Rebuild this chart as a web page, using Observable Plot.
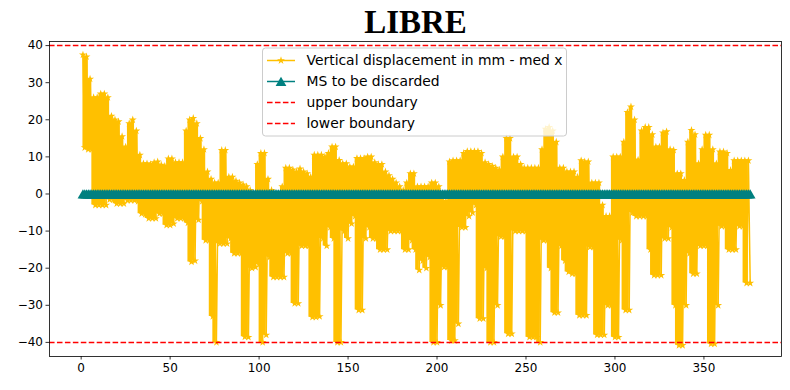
<!DOCTYPE html>
<html>
<head>
<meta charset="utf-8">
<script src="https://cdn.jsdelivr.net/npm/d3@7"></script>
<script src="https://cdn.jsdelivr.net/npm/@observablehq/plot@0.6"></script>
<style>
  html, body { margin: 0; padding: 0; background: white; }
  #chart svg { display: block; }
</style>
</head>
<body>
<div id="chart"></div>
<script>
// Sample positions (x) and read-off upper / lower envelope of the dense signal
const sampleX = [
  1,3,5,7,9,11,13,15,17,19,21,23,25,27,29,31,33,35,37,39,41,43,45,47,49,51,53,55,57,59,
  61,63,65,67,69,71,73,75,77,79,81,83,85,87,89,91,93,95,97,99,101,103,105,107,109,111,113,115,117,119,
  121,123,125,127,129,131,133,135,137,139,141,143,145,147,149,151,153,155,157,159,161,163,165,167,169,171,173,175,177,179,
  181,183,185,187,189,191,193,195,197,199,201,203,205,207,209,211,213,215,217,219,221,223,225,227,229,231,233,235,237,239,
  241,243,245,247,249,251,253,255,257,259,261,263,265,267,269,271,273,275,277,279,281,283,285,287,289,291,293,295,297,299,
  301,303,305,307,309,311,313,315,317,319,321,323,325,327,329,331,333,335,337,339,341,343,345,347,349,351,353,355,357,359,
  361,363,365,367,369,371,373,375
];
const dispHigh = [
  37.5,37,31,26,26,27,27,26,21,20,19.5,15.5,12.7,19,20,17,10.5,8.2,8.2,8,8.5,8.7,7.8,7.5,9.5,9.5,8.5,8.5,8.5,17,
  20,20.4,19,15,12,6,4,3,3,11.8,11.8,4.6,4.6,3.5,3,2.5,2,1,-1.5,8,11,11,4,1,-1,-1,2,7,7,6.5,
  6,6.8,6,5.5,4.6,10.5,10.5,10.5,10,11,12.7,12.7,9.1,8.2,8.2,7.3,7.3,9.6,9.6,9.6,10,10,8.5,8,8,6,5,4,3,2,
  1,3,5.5,5.5,2,2,2,2,3,3,2,-1,-2,8.7,9,9,9,11,11.5,11.5,11.5,11.5,11,8.5,8,7.5,7,6.5,10,15,
  15,10,10,8,7,7,7,7,7,12,17.5,18,17,14,7,7,6,6,6,4.6,9,8.7,8.7,3,3,3,-3,-6,-6,10,
  10,10,14,22,23.5,20,9.2,17,18,18,16,12.7,12.7,16.5,16.8,12,11.8,5.5,5.5,3.7,14,17.2,16,8.2,12,15.9,15.9,12,8.2,11.4,
  11.4,11,6.4,9,9,9,9,9
];
const dispLow = [
  12.5,12,12,-3,-3,-3,-3,-1.5,-1.5,-2.6,-2.6,-2.6,-1.7,-1.7,-1.7,-2,-5.3,-5.5,-6.6,-6.6,-6.6,-5.3,-5.3,-8.4,-8.4,-8,-6.6,-6.6,-6.6,-7.8,
  -18.3,-18,-7,-2,-12.5,-12.5,-33,-40,-13.4,-13.4,-13.4,-12,-16,-16,-16,-38.5,-38.6,-20,-19.7,-19,-40,-38,-17,-22.4,-22.4,-22.4,-22.4,-16,-16,-29.5,
  -29.5,-14,-14,-14,-33.2,-33.2,-33,-12,-14,-9,-12,-40,-40,-10,-12,-8,-6,-31.3,-31.3,-12,-9,-12,-12,-15,-15,-15,-10,-10,-10,-10,
  -15,-15,-12.5,-15,-20.5,-18,-20,-17,-40,-40,-30,-19.7,-19.7,-39.5,-39.5,-35,-9,-9,-6,-5,-3,-33.6,-33.6,-20,-40,-40,-30,-11.5,-11.5,-37.7,
  -37.7,-10,-10,-10,-10,-38.6,-38.6,-38.6,-40,-12.5,-12.5,-20,-32,-32,-14,-18,-21,-21.5,-21.5,-32.7,-32.7,-32.7,-14.3,-14.3,-38,-38,-38,-30,-30,-38.6,
  -38.6,-12.5,-31.3,-31.3,-5,-6,-6,-6,-6,-15,-21.9,-21.9,-21.9,-12,-12,-9,-30,-40.8,-40.8,-30,-16,-21.5,-21.5,-14,-14,-14,-40.4,-40.4,-30,-8.7,
  -8.7,-15,-15,-15,-8.7,-8.7,-24,-24
];
// "MS to be discarded" series: all zero over the same samples
const msDiscard = sampleX.map(() => 0);

const xTicks = [0, 50, 100, 150, 200, 250, 300, 350];
const yTicks = [-40, -30, -20, -10, 0, 10, 20, 30, 40];
const boundaries = [40, -40];
const titleText = "LIBRE";
const legendLabels = [
  "Vertical displacement in mm - med x",
  "MS to be discarded",
  "upper boundary",
  "lower boundary"
];

const ORANGE = "#ffc000";
const TEAL = "#008080";
const RED = "#ff0000";

// Build the displacement tables (envelope band + alternating high / low readings)
const envRows = sampleX.map((x, i) => ({x: x, hi: dispHigh[i], lo: dispLow[i]}));
const dispRows = [];
sampleX.forEach((x, i) => {
  dispRows.push({x: x, y: dispHigh[i]});
  dispRows.push({x: x + 1, y: dispLow[i]});
});
const msRows = sampleX.flatMap((x, i) => [{x: x, y: msDiscard[i]}, {x: x + 1, y: msDiscard[i]}]);

const fmt = d3.format("d");

const svg = Plot.plot({
  width: 790,
  height: 390,
  marginLeft: 49,
  marginRight: 9,
  marginTop: 41,
  marginBottom: 34,
  style: {fontFamily: "DejaVu Sans", fontSize: "12px", background: "white", color: "black", overflow: "visible"},
  x: {domain: [-17.8, 393.6]},
  y: {domain: [-43.8, 41.1]},
  marks: [
    Plot.areaY(envRows, {x: "x", y1: "lo", y2: "hi", curve: "step", fill: ORANGE}),
    Plot.line(dispRows, {x: "x", y: "y", stroke: ORANGE, strokeWidth: 1.5}),
    Plot.dot(dispRows, {x: "x", y: "y", symbol: "star", fill: ORANGE, r: 2.5}),
    Plot.line(msRows, {x: "x", y: "y", stroke: TEAL, strokeWidth: 1.5}),
    Plot.dot(msRows, {x: "x", y: "y", symbol: "triangle", fill: TEAL, r: 4, dy: 1.5}),
    Plot.ruleY(boundaries, {y: d => d, stroke: RED, strokeWidth: 1.5, strokeDasharray: "5.55,2.4"}),
    Plot.frame({stroke: "black", strokeWidth: 0.8}),
    Plot.axisX({ticks: xTicks, tickFormat: fmt, tickSize: 3.5, tickPadding: 3, strokeWidth: 0.8, label: null, fontSize: 12}),
    Plot.axisY({ticks: yTicks, tickFormat: fmt, tickSize: 3.5, tickPadding: 3, strokeWidth: 0.8, label: null, fontSize: 12}),
    Plot.text([titleText], {text: d => d, frameAnchor: "top", lineAnchor: "bottom", dy: -9,
      fontFamily: "Liberation Serif", fontWeight: "bold", fontSize: 33, fill: "black"})
  ]
});

// Legend (matplotlib-style box inside the axes)
const lg = d3.select(svg).append("g").attr("transform", "translate(262.5,48)")
  .attr("text-anchor", "start");
lg.append("rect").attr("width", 304).attr("height", 88).attr("rx", 3)
  .attr("fill", "white").attr("fill-opacity", 0.8).attr("stroke", "#cccccc").attr("stroke-width", 1);
const rowY = [12.5, 33.5, 54.5, 75.5];
const styles = [
  {stroke: ORANGE, dash: null, sym: d3.symbolStar, fill: ORANGE, size: Math.PI * 2.5 * 2.5, dy: 0},
  {stroke: TEAL, dash: null, sym: d3.symbolTriangle, fill: TEAL, size: Math.PI * 16, dy: 1.5},
  {stroke: RED, dash: "5.55,2.4", sym: null},
  {stroke: RED, dash: "5.55,2.4", sym: null}
];
legendLabels.forEach((label, i) => {
  const s = styles[i];
  const g = lg.append("g").attr("transform", `translate(0,${rowY[i]})`);
  const ln = g.append("line").attr("x1", 4.5).attr("x2", 32.5).attr("y1", 0).attr("y2", 0)
    .attr("stroke", s.stroke).attr("stroke-width", 1.5);
  if (s.dash) ln.attr("stroke-dasharray", s.dash);
  if (s.sym) {
    g.append("path").attr("d", d3.symbol(s.sym, s.size)())
      .attr("transform", `translate(18.5,${s.dy})`).attr("fill", s.fill);
  }
  g.append("text").attr("x", 44).attr("y", 0).attr("dy", "0.35em")
    .attr("text-anchor", "start")
    .attr("font-family", "DejaVu Sans").attr("font-size", "13.9px").attr("fill", "#000")
    .text(label);
});

document.getElementById("chart").appendChild(svg);
</script>
</body>
</html>
